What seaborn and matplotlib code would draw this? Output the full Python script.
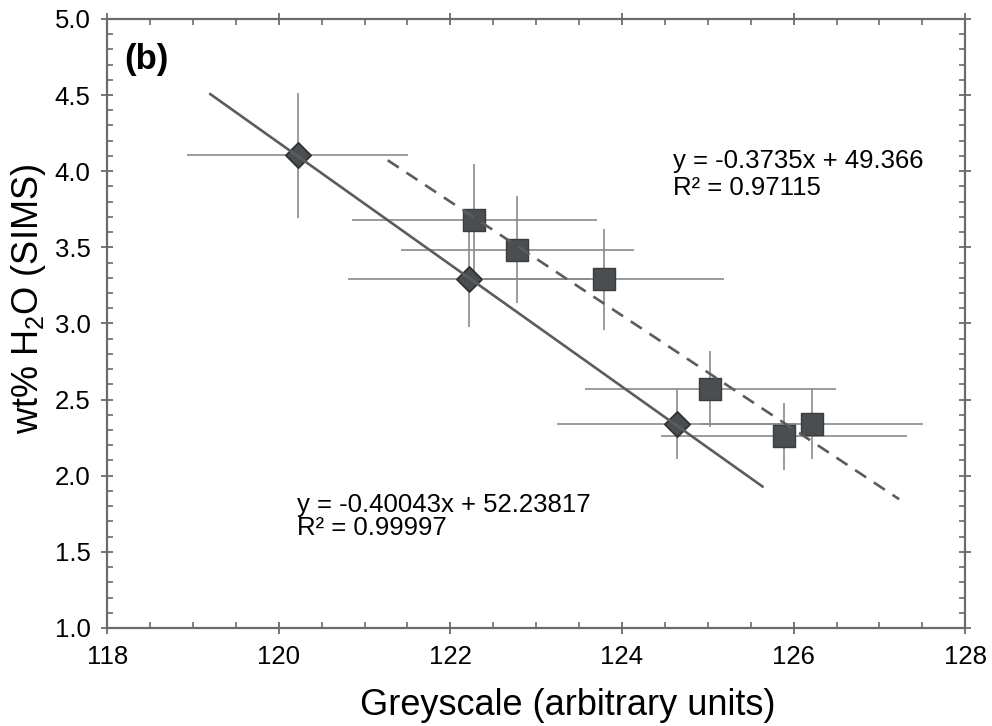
import numpy as np
import pandas as pd
import matplotlib
matplotlib.use("Agg")
import matplotlib.pyplot as plt
import seaborn as sns
from matplotlib.ticker import MultipleLocator

# ---- data ----
diamond_x = [120.22, 122.22, 124.64]
diamond_y = [4.105, 3.295, 2.34]
diamond_xerr = [1.29, 1.41, 1.40]
diamond_yerr = [0.41, 0.32, 0.23]

square_x = [122.28, 122.78, 123.79, 125.03, 125.89, 126.22]
square_y = [3.677, 3.485, 3.29, 2.567, 2.259, 2.34]
square_xerr = [1.43, 1.36, 1.40, 1.46, 1.43, 1.29]
square_yerr = [0.37, 0.35, 0.33, 0.25, 0.22, 0.23]

# fitted lines (coefficients as printed) and their x extents
solid_slope, solid_intercept = -0.40043, 52.23817
solid_xrange = [119.2, 125.64]
dashed_slope, dashed_intercept = -0.3735, 49.366
dashed_xrange = [121.27, 127.23]

eq_dashed = ["y = -0.3735x + 49.366", "R² = 0.97115"]
eq_solid = ["y = -0.40043x + 52.23817", "R² = 0.99997"]
panel_label = "(b)"
xlabel = "Greyscale (arbitrary units)"
ylabel = "wt% H$_2$O (SIMS)"

# ---- style ----
sns.set_style("ticks")
plt.rcParams["font.family"] = ["Liberation Sans", "DejaVu Sans"]
plt.rcParams["mathtext.default"] = "regular"
plt.rcParams["text.color"] = "black"
plt.rcParams["axes.labelcolor"] = "black"

fig = plt.figure(figsize=(9.92, 7.26), dpi=100)
ax = fig.add_axes([0.108, 0.135, 0.865, 0.839])

err_col = "#8a8a8a"
mark_face = "#4a4e50"
mark_edge = "#303234"
line_col = "#5c5c5c"

# error bars
ax.errorbar(diamond_x, diamond_y, xerr=diamond_xerr, yerr=diamond_yerr,
            fmt="none", ecolor=err_col, elinewidth=1.2, zorder=2)
ax.errorbar(square_x, square_y, xerr=square_xerr, yerr=square_yerr,
            fmt="none", ecolor=err_col, elinewidth=1.2, zorder=2)

# markers
sns.scatterplot(x=diamond_x, y=diamond_y, marker="D", s=165, color=mark_face,
                edgecolor=mark_edge, linewidth=1.3, ax=ax, zorder=3)
sns.scatterplot(x=square_x, y=square_y, marker="s", s=235, color=mark_face,
                edgecolor="#3a3c3e", linewidth=1.0, ax=ax, zorder=3)

# fit lines
solid_df = pd.DataFrame({"x": solid_xrange})
solid_df["y"] = solid_slope * solid_df["x"] + solid_intercept
dashed_df = pd.DataFrame({"x": dashed_xrange})
dashed_df["y"] = dashed_slope * dashed_df["x"] + dashed_intercept

sns.lineplot(data=solid_df, x="x", y="y", color=line_col, lw=1.9, ax=ax, zorder=4)
sns.lineplot(data=dashed_df, x="x", y="y", color=line_col, lw=1.9,
             linestyle=(0, (5, 3.5)), ax=ax, zorder=4)

# axes
ax.set_xlim(118, 128)
ax.set_ylim(1.0, 5.0)
ax.xaxis.set_major_locator(MultipleLocator(2))
ax.xaxis.set_minor_locator(MultipleLocator(0.5))
ax.yaxis.set_major_locator(MultipleLocator(0.5))
ax.yaxis.set_minor_locator(MultipleLocator(0.1))

spine_col = "#6b6b6b"
for sp in ax.spines.values():
    sp.set_visible(True)
    sp.set_color(spine_col)
    sp.set_linewidth(1.6)

ax.tick_params(which="major", direction="inout", length=8, width=1.3,
               color=spine_col, labelcolor="black", labelsize=18.5,
               top=True, right=True)
ax.tick_params(which="minor", direction="in", length=4.5, width=1.2,
               color=spine_col, top=True, right=True)
ax.tick_params(axis="x", which="major", pad=8)
ax.tick_params(axis="y", which="major", pad=8)

ax.set_xlabel(xlabel, fontsize=26, color="black")
ax.set_ylabel(ylabel, fontsize=26, color="black")
ax.xaxis.label.set_va("center")
ax.yaxis.label.set_va("center")
ax.xaxis.set_label_coords(0.537, -0.127)
ax.yaxis.set_label_coords(-0.092, 0.541)

ax.text(0.02, 0.934, panel_label, transform=ax.transAxes, fontsize=25,
        fontweight="bold", va="center", ha="left", color="black")

for txt, yy in zip(eq_dashed, [0.755, 0.711]):
    ax.text(0.66, yy, txt, transform=ax.transAxes, fontsize=18.5,
            va="baseline", ha="left", color="black")
for txt, yy in zip(eq_solid, [0.191, 0.153]):
    ax.text(0.221, yy, txt, transform=ax.transAxes, fontsize=18.5,
            va="baseline", ha="left", color="black")

fig.savefig("out.png", dpi=100)
